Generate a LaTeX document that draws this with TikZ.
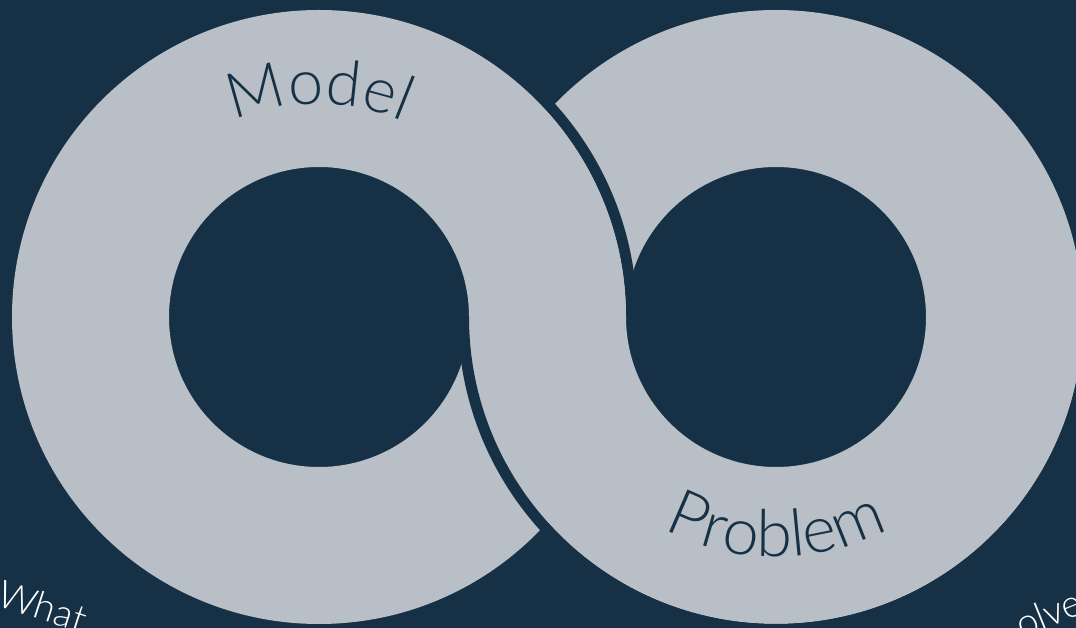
\documentclass[tikz,border=0pt]{standalone}
\usepackage{fontspec}
\newfontfamily\lightfont{Lato Light}
\usetikzlibrary{decorations.text,calc}
\definecolor{bgc}{HTML}{163145}
\definecolor{ringc}{HTML}{B9BFC6}
\tikzset{
  ring/.style={fill=ringc, even odd rule},
  gapline/.style={draw=bgc, line width=11pt},
  corner/.style={text=white, font=\lightfont\fontsize{38}{38}\selectfont, inner sep=0pt},
}
\begin{document}
\begin{tikzpicture}[x=1pt,y=1pt]
\useasboundingbox (0,0) rectangle (1076,627);
\fill[bgc] (-20,-20) rectangle (1096,647);
\coordinate (L) at (319,310);
\coordinate (R) at (776,310);
% right ring (behind at top crossing)
\fill[ring] (R) circle[radius=307] (R) circle[radius=150];
\begin{scope}
  \clip (-20,310) rectangle (1096,647);
  \path[gapline] (L) circle[radius=312.5];
\end{scope}
% left ring
\fill[ring] (L) circle[radius=307] (L) circle[radius=150];
\begin{scope}
  \clip (-20,-20) rectangle (1096,310);
  \path[gapline] (R) circle[radius=312.5];
\end{scope}
% curved labels
\path[decorate, decoration={text along path, text align=center, text color=bgc,
  text={|\lightfont\fontsize{63}{63}\selectfont|Model}}]
  ($(L)+(150:213)$) arc[start angle=150, end angle=30, radius=213];
\path[decorate, decoration={text along path, text align=center, text color=bgc,
  text={|\lightfont\fontsize{65}{65}\selectfont|Problem}}]
  ($(R)+(210:240)$) arc[start angle=210, end angle=330, radius=240];
% corner texts
\node[corner, anchor=base west, rotate=-18] (what) at (-5,22) {What};
\node[corner, anchor=base west, rotate=22] (solve) at (1022,-12) {olve};
\end{tikzpicture}
\end{document}
